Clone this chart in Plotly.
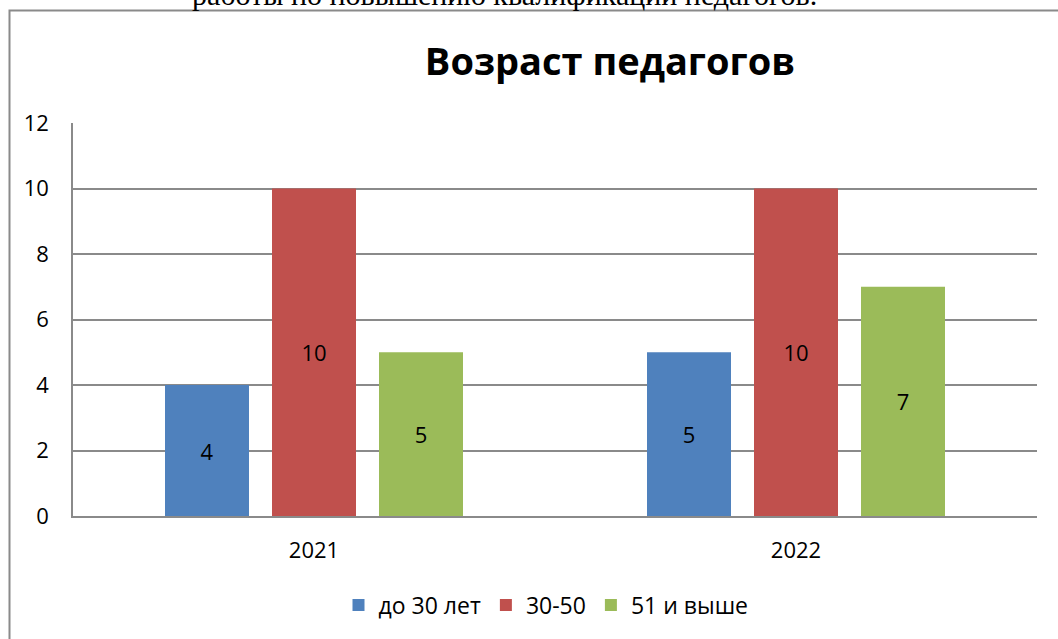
import plotly.graph_objects as go

categories = ["2021", "2022"]
series_names = ["до 30 лет", "30-50", "51 и выше"]
values_under30 = [4, 5]
values_30_50 = [10, 10]
values_51plus = [5, 7]
colors = ["#4F81BD", "#C0504D", "#9BBB59"]
y_ticks = [0, 2, 4, 6, 8, 10, 12]

W, H = 1058, 639
L, R, T, B = 73, 1037, 123, 516
FONT = "'Open Sans', Lato, sans-serif"

fig = go.Figure()
for name, vals, col in zip(series_names, [values_under30, values_30_50, values_51plus], colors):
    fig.add_trace(go.Bar(
        x=categories, y=vals, name=name,
        marker=dict(color=col, line=dict(width=0)),
        text=[str(v) for v in vals],
        textposition="inside", insidetextanchor="middle",
        textfont=dict(family=FONT, size=22, color="black"),
        textangle=0,
    ))

def px_to_paper_x(px):
    return (px - L) / (R - L)

def px_to_paper_y(py):
    return (B - py) / (B - T)

fig.update_layout(
    width=W, height=H,
    margin=dict(l=L, r=W - R, t=T, b=H - B, pad=0),
    paper_bgcolor="white", plot_bgcolor="white",
    barmode="group", bargap=0.334, bargroupgap=0.215,
    font=dict(family=FONT, size=22, color="black"),
    title=dict(text="<b>Возраст педагогов</b>", x=610 / W, xanchor="center",
               y=1 - 62 / H, yanchor="middle", yref="container",
               font=dict(family=FONT, size=38, color="black")),
    showlegend=True,
    legend=dict(orientation="h", x=px_to_paper_x(546), xanchor="center",
                y=px_to_paper_y(605), yanchor="middle",
                font=dict(size=23), itemwidth=30, tracegroupgap=0),
    xaxis=dict(showline=True, linecolor="#8a8a8a", linewidth=1.5, showgrid=False,
               ticks="", ticklabelstandoff=14, tickfont=dict(size=22)),
    yaxis=dict(range=[0, 12], tickvals=y_ticks, showgrid=True, gridcolor="#8a8a8a",
               gridwidth=1.5, showline=True, linecolor="#8a8a8a", linewidth=1.5,
               zeroline=False, ticks="", ticklabelstandoff=18, tickfont=dict(size=22)),
    shapes=[dict(type="rect", xref="paper", yref="paper",
                 x0=px_to_paper_x(9.5), x1=px_to_paper_x(1100),
                 y0=px_to_paper_y(700), y1=px_to_paper_y(10.5),
                 line=dict(color="#8a8a8a", width=2), fillcolor="rgba(0,0,0,0)", layer="below")],
    annotations=[dict(text="работы по повышению квалификации педагогов.",
                      xref="paper", yref="paper", x=px_to_paper_x(504), xanchor="center",
                      y=px_to_paper_y(13), yanchor="bottom", showarrow=False,
                      font=dict(family="'Liberation Serif', 'Times New Roman', serif", size=30, color="black"))],
)

fig.write_html("out.html", config={"displayModeBar": False},
               post_script="document.body.style.margin='0';document.body.style.overflow='hidden';")
